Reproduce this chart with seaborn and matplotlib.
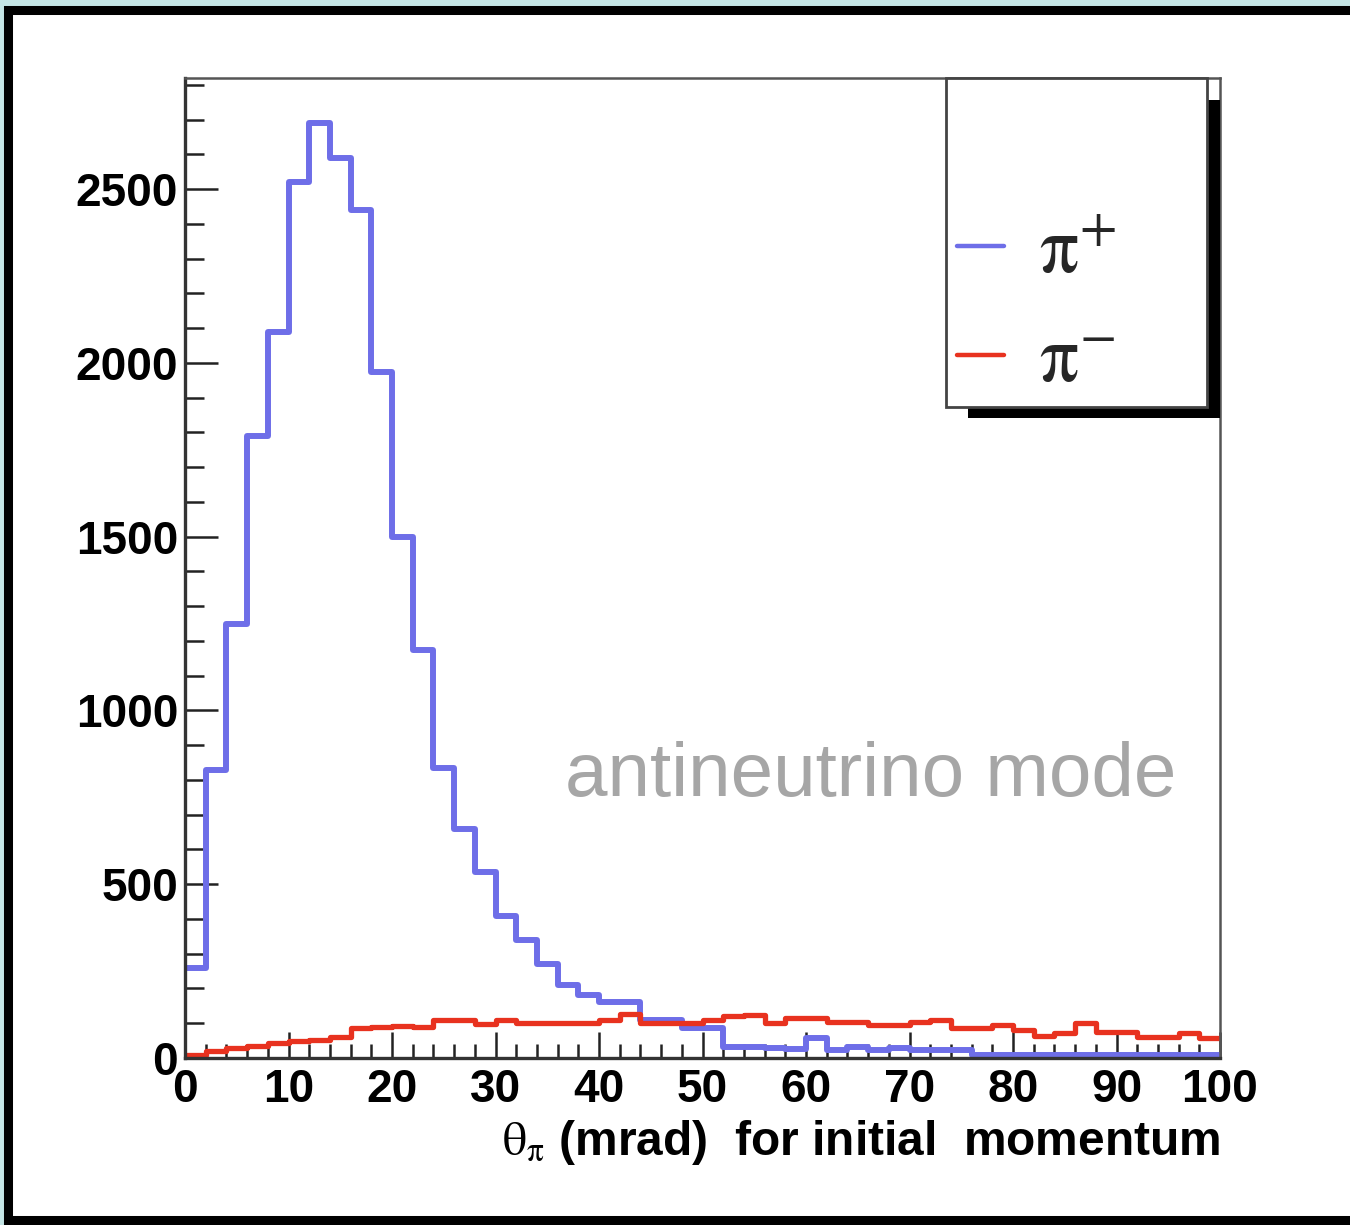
import numpy as np
import pandas as pd
import matplotlib
matplotlib.use('Agg')
import matplotlib.pyplot as plt
import seaborn as sns
from matplotlib.patches import Rectangle
from matplotlib.ticker import MultipleLocator

# ---- data ----
bin_edges = list(range(0, 102, 2))         # theta_pi bins, mrad
pi_plus = [260, 830, 1250, 1790, 2090, 2520, 2690, 2590, 2440, 1975,
           1500, 1175, 835, 660, 535, 410, 340, 270, 210, 180,
           160, 160, 110, 110, 86, 86, 32, 32, 30, 25,
           58, 23, 32, 23, 28, 23, 23, 23, 10, 10,
           10, 9, 9, 9, 9, 8, 8, 8, 8, 8]
pi_minus = [10, 20, 28, 35, 42, 50, 52, 60, 85, 90,
            92, 90, 108, 108, 98, 108, 100, 100, 100, 102,
            110, 128, 100, 100, 100, 108, 122, 124, 102, 115,
            115, 104, 104, 95, 95, 104, 109, 86, 86, 95,
            81, 63, 72, 100, 75, 75, 60, 60, 72, 58]
series_labels = ['$\\mathrm{\\pi}^{+}$', '$\\mathrm{\\pi}^{-}$']
annotation = 'antineutrino mode'
x_label = '$\\mathrm{\\theta_{\\pi}}$ (mrad)  for initial  momentum'
x_ticks = list(range(0, 101, 10))
y_ticks = [0, 500, 1000, 1500, 2000, 2500]

sns.set_theme(style='white')
plt.rcParams['font.family'] = ['Liberation Sans', 'DejaVu Sans']
plt.rcParams['mathtext.fontset'] = 'stix'

centers = [e + 1 for e in bin_edges[:-1]]
df_plus = pd.DataFrame({'theta': centers, 'count': pi_plus})
df_minus = pd.DataFrame({'theta': centers, 'count': pi_minus})

W, H = 1350, 1225
fig = plt.figure(figsize=(W / 100, H / 100), dpi=100)
fig.patch.set_facecolor('#c4e5e5')
fig.add_artist(Rectangle((7.5 / W, (H - 1220) / H), (1370 - 7.5) / W, (1220 - 10) / H,
                         transform=fig.transFigure, facecolor='white',
                         edgecolor='black', linewidth=6.5, zorder=-5))

ax = fig.add_axes([185 / W, (H - 1058) / H, 1035 / W, 980 / H])
ax.set_facecolor('white')

sns.histplot(data=df_plus, x='theta', weights='count', bins=bin_edges,
             element='step', fill=False, color='#6e6ee8', linewidth=4.3, ax=ax)
sns.histplot(data=df_minus, x='theta', weights='count', bins=bin_edges,
             element='step', fill=False, color='#e8321f', linewidth=3.8, ax=ax)

ax.set_xlim(0, 100)
ax.set_ylim(0, 2820)
ax.set_ylabel('')
ax.set_xticks(x_ticks)
ax.set_xticklabels([str(v) for v in x_ticks])
ax.set_yticks(y_ticks)
ax.set_yticklabels([str(v) for v in y_ticks])
ax.xaxis.set_minor_locator(MultipleLocator(2))
ax.yaxis.set_minor_locator(MultipleLocator(100))
ax.tick_params(axis='both', which='both', direction='in', top=False, right=False,
               bottom=True, left=True,
               color='#222222', width=1.8, labelsize=33, labelcolor='black')
ax.tick_params(axis='y', which='major', length=24, pad=5)
ax.tick_params(axis='y', which='minor', length=14)
ax.tick_params(axis='x', which='major', length=19, pad=7)
ax.tick_params(axis='x', which='minor', length=10)
for t in ax.get_xticklabels() + ax.get_yticklabels():
    t.set_fontweight('bold')

for side, sp in ax.spines.items():
    sp.set_visible(True)
    sp.set_color('#333333' if side in ('left', 'bottom') else '#555555')
    sp.set_linewidth(2.4 if side in ('left', 'bottom') else 1.8)

ax.set_xlabel(x_label, fontsize=34.5, fontweight='bold', color='black')
ax.xaxis.set_label_coords(1.0, (1058 - 1155) / 980)
ax.xaxis.label.set_ha('right')
ax.xaxis.label.set_va('baseline')

ax.text((565 - 185) / 1035, (1058 - 796) / 980, annotation, transform=ax.transAxes,
        fontsize=55, color='#a6a6a6', ha='left', va='baseline')

# legend box with ROOT-like shadow
ax.add_patch(Rectangle(((968 - 185) / 1035, (1058 - 418) / 980),
                       (1220 - 968) / 1035, (418 - 100) / 980,
                       transform=ax.transAxes, facecolor='black', edgecolor='none',
                       clip_on=False, zorder=5))
ax.add_patch(Rectangle(((946 - 185) / 1035, (1058 - 407) / 980),
                       (1207 - 946) / 1035, (407 - 78) / 980,
                       transform=ax.transAxes, facecolor='white', edgecolor='#444444',
                       linewidth=2, clip_on=False, zorder=6))
leg = ax.legend(handles=[ax.lines[0], ax.lines[1]], labels=series_labels,
                loc='center left', bbox_to_anchor=((957 - 185) / 1035, (1058 - 307) / 980),
                frameon=False, fontsize=56, borderpad=0, borderaxespad=0,
                handlelength=0.6, handletextpad=0.45, labelspacing=0.47)
leg.set_zorder(7)
for ln in leg.get_lines():
    ln.set_linewidth(3.2)

fig.savefig('out.png', dpi=100, facecolor=fig.get_facecolor())
